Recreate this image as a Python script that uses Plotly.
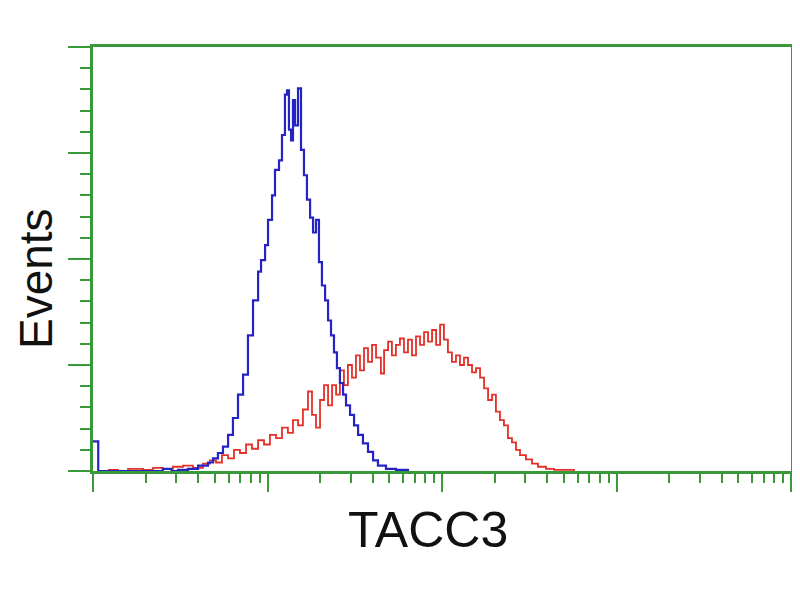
import plotly.graph_objects as go

# log10 fluorescence channel positions and event counts
blue_log = [0.0, 0.03, 0.40, 0.45, 0.487, 0.544, 0.602, 0.659, 0.688, 0.716, 0.745, 0.774, 0.802,
            0.831, 0.860, 0.888, 0.917, 0.946, 0.963, 0.986, 1.003, 1.026, 1.043, 1.066,
            1.083, 1.100, 1.112, 1.123, 1.135, 1.146, 1.158, 1.175, 1.192, 1.209, 1.226,
            1.244, 1.261, 1.278, 1.295, 1.312, 1.330, 1.347, 1.364, 1.381, 1.398, 1.415,
            1.433, 1.450, 1.473, 1.496, 1.519, 1.547, 1.576, 1.605, 1.633, 1.679, 1.736,
            1.805]
blue_counts = [28, 0, 2, 0, 1, 2, 5, 8, 12, 17, 23, 34, 50,
               72, 91, 128, 161, 188, 199, 213, 237, 260, 284, 293,
               317, 355, 359, 322, 312, 350, 326, 361, 303, 279, 256,
               239, 225, 237, 197, 175, 161, 142, 128, 112, 97, 83,
               72, 62, 53, 43, 34, 26, 18, 10, 5, 2, 1,
               0]

red_log = [0.086, 0.143, 0.201, 0.287, 0.344, 0.401, 0.458, 0.516, 0.573, 0.630, 0.670,
           0.705, 0.739, 0.774, 0.808, 0.842, 0.877, 0.911, 0.946, 0.980, 1.014, 1.049,
           1.083, 1.117, 1.146, 1.175, 1.203, 1.232, 1.255, 1.278, 1.301, 1.324, 1.347,
           1.370, 1.393, 1.415, 1.438, 1.461, 1.484, 1.507, 1.530, 1.553, 1.576, 1.599,
           1.622, 1.650, 1.668, 1.691, 1.713, 1.736, 1.759, 1.782, 1.805, 1.828, 1.851,
           1.874, 1.897, 1.920, 1.943, 1.966, 1.989, 2.011, 2.034, 2.057, 2.080, 2.103,
           2.126, 2.149, 2.172, 2.195, 2.218, 2.241, 2.264, 2.287, 2.309, 2.332, 2.355,
           2.378, 2.401, 2.424, 2.447, 2.481, 2.516, 2.550, 2.596, 2.642, 2.699, 2.756]
red_counts = [1, 0, 2, 1, 3, 2, 4, 5, 3, 7, 10,
              8, 15, 12, 20, 17, 25, 21, 29, 25, 34, 31,
              41, 36, 48, 43, 58, 75, 53, 41, 67, 81, 62,
              81, 72, 95, 81, 100, 88, 109, 95, 116, 103, 119,
              107, 92, 114, 122, 109, 119, 125, 112, 124, 109, 127,
              119, 131, 122, 133, 119, 138, 124, 112, 103, 109, 100,
              107, 100, 93, 97, 88, 78, 67, 72, 56, 48, 43,
              31, 27, 20, 15, 11, 7, 4, 2, 1, 1, 0]

x_title = "TACC3"
y_title = "Events"

green = "#3a9a3a"

fig = go.Figure()
fig.add_trace(go.Scatter(x=[10 ** v for v in red_log], y=red_counts, mode="lines",
                         line=dict(color="#e53028", width=1.8, shape="hv"),
                         showlegend=False))
fig.add_trace(go.Scatter(x=[10 ** v for v in blue_log], y=blue_counts, mode="lines",
                         line=dict(color="#2424c4", width=2.2, shape="hv"),
                         showlegend=False))

fig.update_layout(
    width=784, height=584,
    margin=dict(l=85, r=1, t=39, b=121, autoexpand=False),
    paper_bgcolor="white", plot_bgcolor="white",
    font=dict(family="Liberation Sans, Arial, sans-serif", color="black"),
    xaxis=dict(type="log", range=[0, 4], showgrid=False, zeroline=False,
               automargin=False,
               showline=True, linecolor=green, linewidth=3, mirror=True,
               ticks="outside", ticklen=18, tickwidth=2, tickcolor=green,
               dtick=1, showticklabels=False,
               minor=dict(ticks="outside", ticklen=9, tickwidth=2, tickcolor=green,
                          dtick="D1", showgrid=False)),
    yaxis=dict(range=[0, 400], showgrid=False, zeroline=False,
               automargin=False,
               showline=True, linecolor=green, linewidth=3, mirror=True,
               ticks="outside", ticklen=22, tickwidth=2, tickcolor=green,
               dtick=100, showticklabels=False,
               minor=dict(ticks="outside", ticklen=10, tickwidth=2, tickcolor=green,
                          dtick=20, showgrid=False)),
    annotations=[
        dict(text=x_title, xref="paper", yref="paper", x=0.480, y=-0.139,
             xanchor="center", yanchor="middle", showarrow=False,
             font=dict(size=50, color="#111111")),
        dict(text=y_title, xref="paper", yref="paper", x=-0.0817, y=0.455,
             xanchor="center", yanchor="middle", showarrow=False, textangle=-90,
             font=dict(size=46, color="#111111")),
    ],
)

fig.write_html("out.html")
